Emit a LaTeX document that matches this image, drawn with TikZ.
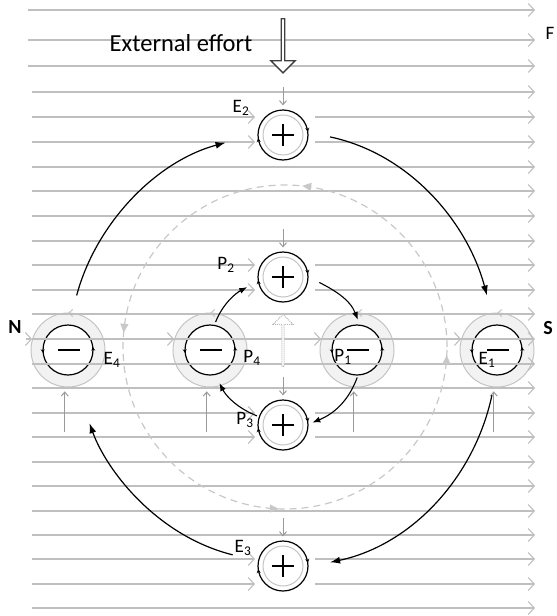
\documentclass[tikz,border=0pt]{standalone}
\usepackage{fontspec}
\setmainfont{Carlito}
\usetikzlibrary{arrows.meta,calc,shapes.arrows,decorations.markings}
\definecolor{fieldgray}{HTML}{BFBFBF}
\definecolor{ringfill}{HTML}{F2F2F2}
\definecolor{ringgray}{HTML}{C4C4C4}
\definecolor{pushgray}{HTML}{9A9A9A}
\definecolor{loopgray}{HTML}{C8C8C8}

\begin{document}
\begin{tikzpicture}[x=1pt,y=1pt,>=Latex,
  fieldline/.style={fieldgray,line width=1.1pt,-{Straight Barb[length=6pt,width=13pt]}},
  push/.style={pushgray,line width=1pt,-{Straight Barb[length=4pt,width=7pt]},shorten >=4pt},
  posmag/.style={circle,draw,line width=1.2pt,fill=white,minimum size=50pt,inner sep=0pt,
    path picture={
      \draw[ringgray,line width=1pt] (path picture bounding box.center) circle (20pt);
      \draw[line width=1.1pt] (path picture bounding box.center) +(-11pt,0) -- +(11pt,0)
        (path picture bounding box.center) +(0,-11pt) -- +(0,11pt);},
    postaction={decorate,decoration={markings,
      mark=at position 0.02 with {\arrowreversed{Stealth[length=4pt,width=4pt]}},
      mark=at position 0.52 with {\arrowreversed{Stealth[length=4pt,width=4pt]}}}}},
  negring/.style={circle,fill=ringfill,draw=ringgray,line width=1pt,minimum size=74pt,inner sep=0pt,
    postaction={decorate,decoration={markings,
      mark=at position 0.25 with {\arrow[ringgray]{Straight Barb[length=4pt,width=7pt]}}}}},
  negmag/.style={circle,draw,line width=1.2pt,fill=white,minimum size=50pt,inner sep=0pt,
    path picture={
      \draw[line width=1.1pt] (path picture bounding box.center) +(-10pt,0) -- +(12pt,0);},
    postaction={decorate,decoration={markings,
      mark=at position 0.02 with {\arrow{Stealth[length=4pt,width=4pt]}},
      mark=at position 0.52 with {\arrow{Stealth[length=4pt,width=4pt]}}}}},
  orbit/.style={line width=1.2pt,-{Latex[length=10pt,width=7pt]}},
  inflow/.style={line width=1.1pt,-{Latex[length=8pt,width=6pt]}},
  lbl/.style={font=\fontsize{19}{22}\selectfont,inner sep=0pt},
  pole/.style={font=\fontsize{20}{22}\selectfont\bfseries,inner sep=0pt}]
\useasboundingbox (0,0) rectangle (557,-616);

% rings of the south poles
\foreach \n/\x in {E4/68,P4/210,P1/357,E1/497}
  \node[negring] (ring\n) at (\x,-350) {};
\foreach \n/\x in {E4/68,P4/210,P1/357,E1/497}
  \node[negmag] (\n) at (\x,-350) {};

% field lines
\foreach \y in {10,40,66}
  \draw[fieldline] (28,-\y) -- (535,-\y);
\foreach \y in {92,167,191,216,241,314,339,364,388,462,486,511,535,608}
  \draw[fieldline] (32,-\y) -- (535,-\y);
\foreach \y in {117,142,265,290,413,437,559,584}{
  \draw[fieldline] (32,-\y) -- (255,-\y);
  \draw[fieldline] (315,-\y) -- (535,-\y);
}
\foreach \n in {E4,P4,P1,E1}
  \draw[fieldline] ($(ring\n.163)+(-6,0)$) -- (ring\n.163);

% north poles
\foreach \n/\y in {E2/135,P2/277,P3/425,E3/566}
  \node[posmag] (\n) at (283,-\y) {};

% dashed loop
\draw[loopgray,line width=1.2pt,dash pattern=on 7pt off 5pt,
  postaction={decorate,decoration={markings,
    mark=at position 0.233 with {\arrow{Triangle[length=9pt,width=8pt]}},
    mark=at position 0.486 with {\arrow{Triangle[length=9pt,width=8pt]}},
    mark=at position 0.744 with {\arrow{Triangle[length=9pt,width=8pt]}},
    mark=at position 0.992 with {\arrow{Triangle[length=9pt,width=8pt]}}}}]
  (285,-347) circle (162pt);

% arrows
\node[single arrow,draw=black!75,line width=1.3pt,fill=white,shape border rotate=270,
  minimum height=54pt,minimum width=24pt,single arrow head extend=4pt,inner sep=0pt] (effort) at (283,-45) {};
\node[single arrow,draw=gray!55,densely dotted,line width=1pt,fill=white,shape border rotate=90,
  minimum height=52pt,minimum width=20pt,single arrow head extend=4pt,inner sep=0pt] (lift) at (283,-341) {};

\foreach \n in {E2,P2,P3,E3}{
  \coordinate (top\n) at ($(\n.north)+(0,22)$);
  \draw[push] (top\n) -- (\n.north);
}
\foreach \n in {E4,P4,P1,E1}{
  \coordinate (low\n) at ($(ring\n.-95)+(0,-45)$);
  \draw[push] (low\n) -- (ring\n.-95);
}

% outer loop
\draw[orbit,shorten <=30pt,shorten >=33pt] (E4.88) to[out=75,in=195] (E2.178);
\draw[orbit,shorten <=22pt,shorten >=30pt] (E2.6) to[out=-12,in=105] (E1.95);
\draw[orbit,shorten <=20pt,shorten >=22pt] (E1.-92) to[out=-102,in=12] (E3.-2);
\draw[orbit,shorten <=26pt,shorten >=51pt] (E3.169) to[out=166,in=-70] (E4.-81);

% inner loop
\draw[inflow,shorten <=3pt,shorten >=12pt] (P4.80) to[out=68,in=208] (P2.190);
\draw[inflow,shorten <=12pt,shorten >=5pt] (P2.0) to[out=-27,in=111] (P1.84);
\draw[inflow,shorten <=2pt,shorten >=4pt] (P1.-88) to[out=-110,in=22] (P3.2);
\draw[inflow,shorten <=2pt,shorten >=9pt] (P3.161) to[out=158,in=-63] (P4.-78);

% labels
\node[font=\fontsize{24.5}{27}\selectfont,inner sep=0pt] (efflab) at (181,-43) {External effort};
\node[lbl] (flab) at (550,-33) {F};
\node[pole] (nlab) at (15,-327) {N};
\node[pole] (slab) at (548,-328) {S};
\node[lbl] (e2lab) at (241,-108) {E\textsubscript{2}};
\node[lbl] (e4lab) at (112,-360) {E\textsubscript{4}};
\node[lbl] (e1lab) at (487,-360) {E\textsubscript{1}};
\node[lbl] (e3lab) at (243,-548) {E\textsubscript{3}};
\node[lbl] (p2lab) at (226,-265) {P\textsubscript{2}};
\node[lbl] (p4lab) at (252,-358) {P\textsubscript{4}};
\node[lbl] (p1lab) at (343,-357) {P\textsubscript{1}};
\node[lbl] (p3lab) at (245,-420) {P\textsubscript{3}};
\end{tikzpicture}
\end{document}
